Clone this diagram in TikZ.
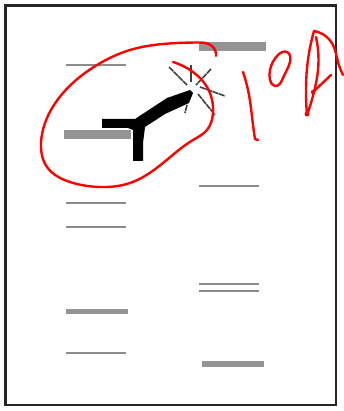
\documentclass[tikz,border=0pt]{standalone}
\usetikzlibrary{hobby}
\begin{document}
\begin{tikzpicture}[x=1pt,y=-1pt,use Hobby shortcut,
  thinband/.style={draw=black!45,line width=2pt},
  thickband/.style={draw=black!42,line width=5.5pt},
  wideband/.style={draw=black!42,line width=9pt},
  ray/.style={draw=black!75,line width=1.6pt,dash pattern=on 6pt off 0.6pt},
  ink/.style={draw=red,line width=2.4pt,line cap=round,line join=round}]
\useasboundingbox (0,0) rectangle (343,411);
\draw[black!85,line width=2.6pt] (5.5,5.5) rectangle (336,405);
% left lane
\draw[thinband] (66,65) -- (126,65);
\draw[wideband] (64,135) -- (131,135);
\draw[thinband] (66,203) -- (126,203);
\draw[thinband] (66,227) -- (126,227);
\draw[thickband] (66,311.5) -- (128,311.5);
\draw[thinband] (66,353) -- (126,353);
% right lane
\draw[wideband] (199,47) -- (266,47);
\draw[thinband] (199,186) -- (259,186);
\draw[thinband] (199,284) -- (259,284);
\draw[thinband] (199,291) -- (259,291);
\draw[thickband] (202,364) -- (264,364);
% antibody
\fill[black] (102,119) -- (135,119) -- (167,98) -- (190,90) -- (193,93) -- (189,103) -- (165,114)
  -- (145,127) -- (143,143) -- (143,161) -- (133,161) -- (133,130) -- (128,128) -- (102,128) -- cycle;
% sparkle
\draw[ray] (169,67) -- (187,85);
\draw[ray] (191,65) -- (191,82);
\draw[ray] (211,69) -- (196,85);
\draw[ray] (200,87) -- (225,96);
\draw[ray] (198,94) -- (215,115);
\draw[ray] (187,105) -- (185,113);
% red ink
\draw[ink] (216,56) .. (212,46) .. (197,42.5) .. (163,44) .. (130,50) .. (97,65) .. (63,93) .. (45,123) .. (41,143) .. (47,167) .. (70,182) .. (100,187) .. (130,183) .. (163,163) .. (193,140) .. (207,130) .. (213,113) .. (207,87) .. (193,72) .. (173,62);
\draw[ink] (243,72) .. (249,95) .. (253,125) .. (255,139);
\draw[ink] (255,139) -- (258,140);
\draw[ink] (270,70) .. (278,55) .. (287,52) .. (290,62) .. (283,78) .. (275,86) .. (270,80) .. (270,70);
\draw[ink] (307,115) .. (306,87) .. (309,53) .. (314,31);
\draw[ink] (314,31) .. (333,45) .. (338,62) .. (343,75);
\draw[ink] (307,115) .. (314,92) .. (318,70) .. (316,37);
\fill[red] (307,114) circle (2.5pt) (313,92) circle (2.2pt);
\draw[ink] (313,92) -- (331,75);
\end{tikzpicture}
\end{document}
